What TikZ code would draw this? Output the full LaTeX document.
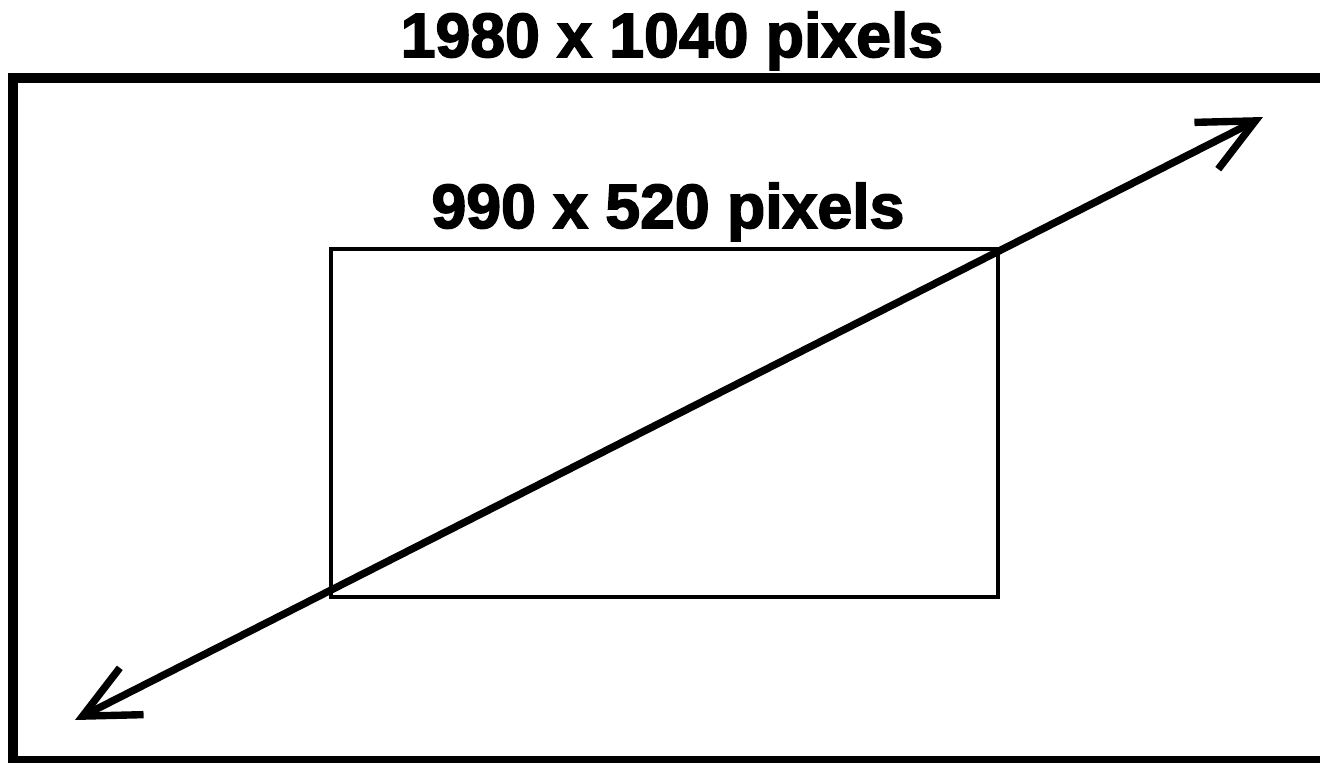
\documentclass[tikz,border=0pt]{standalone}
\usepackage{fontspec}
\setmainfont{Liberation Sans}
\newfontfamily\heavyfont[FakeBold=2.5]{Liberation Sans Bold}
\usetikzlibrary{arrows.meta}

\begin{document}
\begin{tikzpicture}[x=0.02cm, y=-0.02cm, every node/.style={inner sep=0pt},
    sizelabel/.style={font=\heavyfont\fontsize{35.6}{40}\selectfont, anchor=base}]
  \useasboundingbox (0,0) rectangle (1320,762);
  \coordinate (screenNW) at (13,78);
  \coordinate (screenSE) at (1326,761);
  \coordinate (halfNW) at (331,249);
  \coordinate (halfSE) at (998,597);
  \coordinate (tipSW) at (75,720);
  \coordinate (tipNE) at (1263,117);
  \draw[line width=5.7pt] (screenNW) rectangle (screenSE);
  \draw[line width=2.3pt] (halfNW) rectangle (halfSE);
  \draw[line width=4.2pt, {Straight Barb[length=1.1cm,width=1.05cm]}-{Straight Barb[length=1.1cm,width=1.05cm]}]
    (tipSW) -- (tipNE);
  \node[sizelabel] (fullsize) at (672,57) {1980 x 1040 pixels};
  \node[sizelabel] (halfsize) at (668,228) {990 x 520 pixels};
\end{tikzpicture}
\end{document}
